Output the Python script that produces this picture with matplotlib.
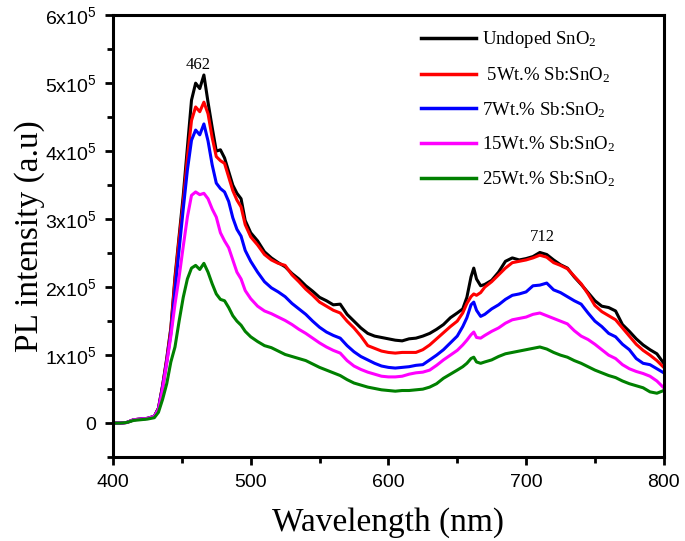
import matplotlib
matplotlib.use('Agg')
import matplotlib.pyplot as plt
from matplotlib.ticker import MultipleLocator, FixedLocator

# PL spectra of undoped / Sb doped SnO2 (x1e5)
wavelength = [400, 405, 410, 415, 420, 425, 430,
              433, 436, 439, 442, 445, 448, 451, 454, 457, 460,
              463, 466, 469, 472, 475, 478, 481, 484, 487, 490,
              493, 496, 500, 505, 510, 515, 520, 525, 530, 535,
              540, 545, 550, 555, 560, 565, 570, 575, 580, 585,
              590, 595, 600, 605, 610, 615, 620, 625, 630, 635,
              640, 645, 650, 654, 657, 660, 662, 664, 667, 670,
              675, 680, 685, 690, 695, 700, 705, 710, 715, 720,
              725, 730, 735, 740, 745, 750, 755, 760, 765, 770,
              775, 780, 785, 790, 795, 800]

undoped = [0, 0, 0.01, 0.05, 0.06, 0.07, 0.10,
           0.22, 0.55, 0.95, 1.40, 2.15, 2.75, 3.35, 4.05, 4.75, 5.00,
           4.92, 5.12, 4.72, 4.35, 4.00, 4.02, 3.90, 3.70, 3.50, 3.38,
           3.30, 2.98, 2.80, 2.68, 2.52, 2.43, 2.36, 2.30, 2.20, 2.12,
           2.02, 1.94, 1.85, 1.80, 1.74, 1.75, 1.60, 1.50, 1.40, 1.32,
           1.28, 1.26, 1.24, 1.22, 1.21, 1.24, 1.25, 1.28, 1.32, 1.38,
           1.45, 1.55, 1.62, 1.68, 1.85, 2.15, 2.28, 2.12, 2.02, 2.04,
           2.10, 2.22, 2.38, 2.43, 2.40, 2.42, 2.45, 2.51, 2.48, 2.40,
           2.33, 2.28, 2.15, 2.04, 1.92, 1.80, 1.72, 1.70, 1.65, 1.45,
           1.35, 1.24, 1.15, 1.08, 1.02, 0.88]

sb5 = [0, 0, 0.01, 0.05, 0.06, 0.07, 0.10,
       0.22, 0.55, 0.93, 1.38, 2.10, 2.70, 3.25, 3.90, 4.45, 4.65,
       4.58, 4.72, 4.55, 4.20, 3.92, 3.86, 3.82, 3.62, 3.42, 3.28,
       3.18, 2.92, 2.74, 2.62, 2.48, 2.40, 2.35, 2.32, 2.18, 2.08,
       1.97, 1.88, 1.78, 1.72, 1.66, 1.62, 1.50, 1.40, 1.28, 1.14,
       1.10, 1.06, 1.04, 1.03, 1.04, 1.04, 1.04, 1.08, 1.15, 1.24,
       1.33, 1.42, 1.50, 1.62, 1.76, 1.86, 1.90, 1.88, 1.92, 2.00,
       2.08, 2.18, 2.28, 2.36, 2.38, 2.40, 2.43, 2.47, 2.44, 2.36,
       2.32, 2.27, 2.16, 2.05, 1.90, 1.73, 1.64, 1.58, 1.52, 1.40,
       1.28, 1.16, 1.07, 1.00, 0.92, 0.82]

sb7 = [0, 0, 0.01, 0.05, 0.06, 0.07, 0.10,
       0.21, 0.53, 0.90, 1.32, 1.95, 2.55, 3.15, 3.72, 4.16, 4.31,
       4.24, 4.40, 4.15, 3.80, 3.53, 3.45, 3.40, 3.26, 3.02, 2.85,
       2.75, 2.54, 2.38, 2.22, 2.08, 1.99, 1.93, 1.86, 1.76, 1.68,
       1.60, 1.50, 1.41, 1.34, 1.29, 1.25, 1.14, 1.05, 0.98, 0.93,
       0.88, 0.84, 0.82, 0.81, 0.82, 0.83, 0.85, 0.86, 0.93, 1.00,
       1.08, 1.18, 1.28, 1.42, 1.55, 1.74, 1.78, 1.66, 1.57, 1.60,
       1.68, 1.74, 1.82, 1.88, 1.90, 1.93, 2.02, 2.03, 2.06, 1.96,
       1.92, 1.86, 1.80, 1.75, 1.62, 1.50, 1.42, 1.32, 1.27, 1.16,
       1.08, 0.95, 0.88, 0.86, 0.80, 0.74]

sb15 = [0, 0, 0.01, 0.05, 0.06, 0.07, 0.10,
        0.20, 0.50, 0.88, 1.28, 1.75, 2.15, 2.60, 3.03, 3.35, 3.40,
        3.36, 3.38, 3.30, 3.15, 3.03, 2.80, 2.68, 2.58, 2.40, 2.22,
        2.12, 1.95, 1.83, 1.72, 1.65, 1.61, 1.56, 1.51, 1.45, 1.38,
        1.32, 1.25, 1.18, 1.12, 1.07, 1.03, 0.92, 0.84, 0.79, 0.75,
        0.72, 0.69, 0.68, 0.68, 0.69, 0.72, 0.74, 0.75, 0.78, 0.85,
        0.93, 1.00, 1.07, 1.15, 1.22, 1.30, 1.34, 1.26, 1.25, 1.29,
        1.35, 1.40, 1.47, 1.52, 1.54, 1.56, 1.60, 1.62, 1.58, 1.54,
        1.50, 1.46, 1.36, 1.28, 1.23, 1.16, 1.08, 1.00, 0.95, 0.86,
        0.80, 0.76, 0.73, 0.69, 0.62, 0.52]

sb25 = [0, 0, 0.01, 0.04, 0.05, 0.06, 0.08,
        0.16, 0.35, 0.58, 0.90, 1.12, 1.50, 1.85, 2.12, 2.28, 2.32,
        2.26, 2.35, 2.22, 2.05, 1.90, 1.82, 1.80, 1.70, 1.58, 1.50,
        1.44, 1.35, 1.27, 1.20, 1.14, 1.11, 1.06, 1.01, 0.98, 0.95,
        0.92, 0.87, 0.82, 0.78, 0.74, 0.70, 0.64, 0.59, 0.56, 0.53,
        0.51, 0.49, 0.48, 0.47, 0.48, 0.48, 0.49, 0.50, 0.53, 0.58,
        0.66, 0.72, 0.78, 0.83, 0.88, 0.95, 0.97, 0.90, 0.88, 0.90,
        0.93, 0.98, 1.02, 1.04, 1.06, 1.08, 1.10, 1.12, 1.09, 1.04,
        1.00, 0.97, 0.92, 0.88, 0.83, 0.78, 0.74, 0.70, 0.67, 0.62,
        0.58, 0.55, 0.52, 0.46, 0.44, 0.48]

series = [undoped, sb5, sb7, sb15, sb25]
labels = ['Undoped SnO$\\mathregular{_2}$',
          ' 5Wt.% Sb:SnO$\\mathregular{_2}$',
          '7Wt.% Sb:SnO$\\mathregular{_2}$',
          '15Wt.% Sb:SnO$\\mathregular{_2}$',
          '25Wt.% Sb:SnO$\\mathregular{_2}$']
colors = ['black', 'red', 'blue', 'magenta', 'green']

ytick_vals = [0, 1e5, 2e5, 3e5, 4e5, 5e5, 6e5]
ytick_labels = ['0'] + ['%dx10$\\mathregular{^5}$' % i for i in range(1, 7)]

serif = 'Liberation Serif'
sans = 'Liberation Sans'

fig = plt.figure(figsize=(6.85, 5.41), dpi=100)
ax = fig.add_axes([0.165, 0.155, 0.804, 0.817])

for s, lab, c in zip(series, labels, colors):
    ax.plot(wavelength, [v * 1e5 for v in s], color=c, lw=2.2, label=lab)

ax.set_xlim(400, 800)
ax.set_ylim(-0.5e5, 6e5)
ax.xaxis.set_major_locator(MultipleLocator(100))
ax.xaxis.set_minor_locator(MultipleLocator(50))
ax.yaxis.set_major_locator(FixedLocator(ytick_vals))
ax.yaxis.set_minor_locator(MultipleLocator(0.5e5))
ax.set_yticklabels(ytick_labels)

for sp in ax.spines.values():
    sp.set_linewidth(2.2)
ax.tick_params(which='major', direction='out', length=6, width=2, labelsize=14,
               pad=6, top=False, right=False)
ax.tick_params(which='minor', direction='out', length=4, width=2, top=False, right=False)
for t in ax.get_xticklabels() + ax.get_yticklabels():
    t.set_fontfamily(sans)

ax.set_xlabel('Wavelength (nm)', fontsize=24, fontfamily=serif, labelpad=12)
ax.set_ylabel('PL intensity (a.u)', fontsize=24, fontfamily=serif, labelpad=0)

ax.text(462, 5.15e5, '462', fontsize=12, fontfamily=serif, ha='center', va='bottom')
ax.text(712, 2.62e5, '712', fontsize=12, fontfamily=serif, ha='center', va='bottom')

leg = ax.legend(loc='upper left', bbox_to_anchor=(0.56, 0.968), frameon=False,
                prop={'family': serif, 'size': 13.5}, handlelength=2.9,
                handletextpad=0.35, labelspacing=0.8, borderaxespad=0, borderpad=0)
for h in leg.get_lines():
    h.set_linewidth(2.5)

fig.savefig('out.png', dpi=100)
